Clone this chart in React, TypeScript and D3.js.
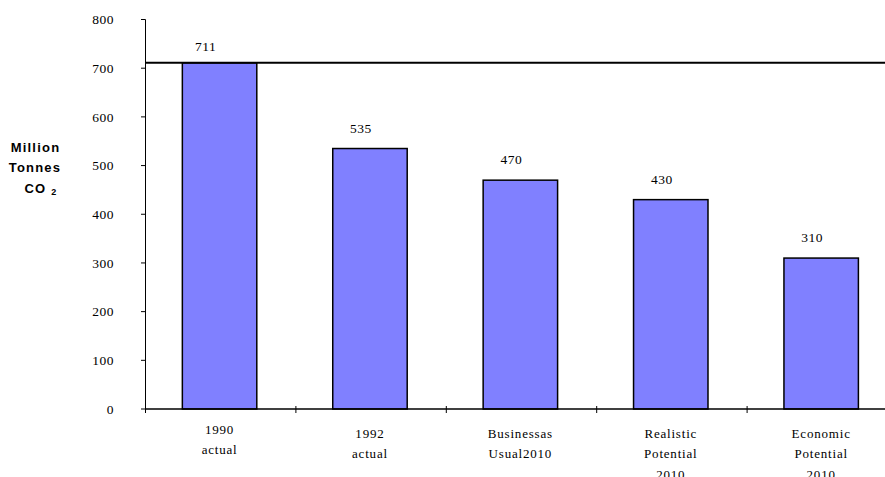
import React from "react";
import * as d3 from "d3";

const categories: string[][] = [
  ["1990", "actual"],
  ["1992", "actual"],
  ["Businessas", "Usual2010"],
  ["Realistic", "Potential", "2010"],
  ["Economic", "Potential", "2010"],
];
const values: number[] = [711, 535, 470, 430, 310];
const yTicks: number[] = [0, 100, 200, 300, 400, 500, 600, 700, 800];
const referenceValue = 711;

const W = 885;
const H = 477;
const x0 = 145.5;
const step = 150.4;
const yTop = 19.5;
const yBottom = 409;

export default function App() {
  const x = d3
    .scaleBand<number>()
    .domain(values.map((_, i) => i))
    .range([x0, x0 + step * values.length])
    .padding(0);
  const y = d3.scaleLinear().domain([0, 800]).range([yBottom, yTop]);
  const bw = x.bandwidth();
  const barOff = bw * 0.245;
  const barW = bw * 0.495;
  const serif = { fontFamily: '"Liberation Serif", "Times New Roman", serif' };
  const sans = { fontFamily: '"Liberation Sans", Arial, sans-serif' };

  return (
    <svg
      width={W}
      height={H}
      style={{ position: "absolute", left: 0, top: 0, background: "#fff" }}
    >
      {/* bars */}
      {values.map((v, i) => (
        <rect
          key={i}
          x={(x(i) as number) + barOff}
          y={y(v)}
          width={barW}
          height={y(0) - y(v)}
          fill="#8080FF"
          stroke="#000"
          strokeWidth={1.5}
        />
      ))}
      {/* reference line */}
      <line
        x1={x0}
        x2={W}
        y1={y(referenceValue)}
        y2={y(referenceValue)}
        stroke="#000"
        strokeWidth={2}
      />
      {/* y axis */}
      <line x1={x0} x2={x0} y1={yTop} y2={yBottom} stroke="#000" strokeWidth={1} />
      {yTicks.map((t) => (
        <g key={t}>
          <line x1={x0 - 4.5} x2={x0} y1={y(t)} y2={y(t)} stroke="#000" />
          <text
            x={114}
            y={y(t)}
            dy="0.35em"
            textAnchor="end"
            style={serif}
            fontSize={13.5}
            letterSpacing={0.5}
            fill="#000"
          >
            {t}
          </text>
        </g>
      ))}
      {/* x axis */}
      <line x1={x0} x2={W} y1={yBottom} y2={yBottom} stroke="#000" strokeWidth={1.5} />
      {values.map((_, i) => (
        <line
          key={i}
          x1={x(i) as number}
          x2={x(i) as number}
          y1={yBottom - 3}
          y2={yBottom + 4}
          stroke="#000"
        />
      ))}
      {/* value labels */}
      {values.map((v, i) => (
        <text
          key={i}
          x={(x(i) as number) + barOff + barW / 2 - (i === 0 ? 14 : 9)}
          y={y(v) - (i === 0 ? 12 : 16)}
          textAnchor="middle"
          style={serif}
          fontSize={13.5}
          letterSpacing={0.5}
          fill="#000"
        >
          {v}
        </text>
      ))}
      {/* category labels */}
      {categories.map((lines, i) => (
        <text
          key={i}
          textAnchor="middle"
          style={serif}
          fontSize={13}
          letterSpacing={0.8}
          fill="#000"
        >
          {lines.map((l, j) => (
            <tspan
              key={j}
              x={(x(i) as number) + barOff + barW / 2}
              y={(i === 0 ? 433.5 : 437.5) + j * 20.5}
            >
              {l}
            </tspan>
          ))}
        </text>
      ))}
      {/* y axis title */}
      <g style={sans} fontSize={13} fontWeight="bold" letterSpacing={1.2} fill="#000" textAnchor="middle">
        <text x={35.5} y={152}>Million</text>
        <text x={35} y={172}>Tonnes</text>
        <text x={41} y={193}>
          CO <tspan fontSize={9} dy={2}>2</tspan>
        </text>
      </g>
    </svg>
  );
}
